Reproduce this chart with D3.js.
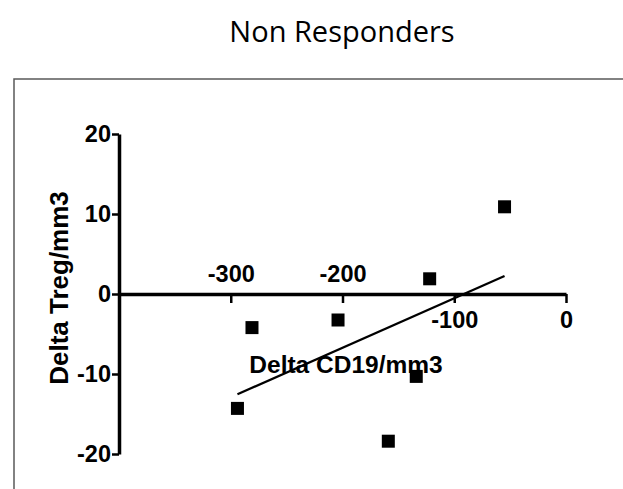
<!DOCTYPE html>
<html>
<head>
<meta charset="utf-8">
<script src="https://cdn.jsdelivr.net/npm/d3@7"></script>
<style>
  html, body { margin: 0; padding: 0; background: #fff; }
  svg { display: block; }
</style>
</head>
<body>
<svg id="chart" width="623" height="489"></svg>
<script>
// ---- data ----
const title = "Non Responders";
const xLabel = "Delta CD19/mm3";
const yLabel = "Delta Treg/mm3";
const deltaCD19 = [-294, -281, -204, -159, -134, -122, -55];
const deltaTreg = [-14.3, -4.2, -3.25, -18.4, -10.3, 1.9, 10.9];
const xTicks = [-300, -200, -100, 0];
const xTicksAbove = [-300, -200];
const yTicks = [-20, -10, 0, 10, 20];
const xDomain = [-400, 0];
const yDomain = [-20, 20];

// ---- layout ----
const svg = d3.select("#chart");
const x = d3.scaleLinear().domain(xDomain).range([119, 566]);
const y = d3.scaleLinear().domain(yDomain).range([454, 134]);
const boldFont = "'Liberation Sans', Arial, sans-serif";
const fmt = d => String(d);

// outer frame (cut off at right/bottom)
svg.append("rect")
  .attr("x", 14).attr("y", 79)
  .attr("width", 700).attr("height", 500)
  .attr("fill", "none").attr("stroke", "#5a5a5a").attr("stroke-width", 1.5);

// title
svg.append("text")
  .attr("x", 342).attr("y", 42)
  .attr("text-anchor", "middle")
  .attr("font-family", "'Open Sans', 'Noto Sans', sans-serif")
  .attr("font-size", 29)
  .attr("fill", "#000")
  .text(title);

// y axis
const yAxisG = svg.append("g")
  .attr("transform", `translate(${x(xDomain[0])},0)`)
  .call(d3.axisLeft(y).tickValues(yTicks).tickSize(7).tickSizeOuter(0).tickPadding(1).tickFormat(fmt));
yAxisG.select(".domain").attr("stroke", "#000").attr("stroke-width", 3.5);
yAxisG.selectAll(".tick line").attr("stroke", "#000").attr("stroke-width", 2.5);
yAxisG.selectAll(".tick text")
  .attr("font-family", boldFont).attr("font-weight", "bold").attr("font-size", 23.5)
  .attr("fill", "#000");

// x axis at y=0
const xAxisG = svg.append("g")
  .attr("transform", `translate(0,${y(0)})`)
  .call(d3.axisBottom(x).tickValues(xTicks).tickSize(9).tickSizeOuter(0).tickFormat(fmt));
xAxisG.select(".domain").attr("stroke", "#000").attr("stroke-width", 3.5);
xAxisG.selectAll(".tick line").attr("stroke", "#000").attr("stroke-width", 2.5);
xAxisG.selectAll(".tick text")
  .attr("font-family", boldFont).attr("font-weight", "bold").attr("font-size", 23.5)
  .attr("fill", "#000")
  .attr("dy", null)
  .attr("y", d => xTicksAbove.includes(d) ? -12 : 34);

// regression line (least squares fit of the points)
const mx = d3.mean(deltaCD19), my = d3.mean(deltaTreg);
let sxy = 0, sxx = 0;
deltaCD19.forEach((v, i) => { sxy += (v - mx) * (deltaTreg[i] - my); sxx += (v - mx) * (v - mx); });
const slope = sxy / sxx, intercept = my - slope * mx;
const [xmin, xmax] = d3.extent(deltaCD19);
svg.append("line")
  .attr("x1", x(xmin)).attr("y1", y(slope * xmin + intercept))
  .attr("x2", x(xmax)).attr("y2", y(slope * xmax + intercept))
  .attr("stroke", "#000").attr("stroke-width", 2.2);

// points
const sq = 13;
svg.append("g").selectAll("rect")
  .data(deltaCD19.map((v, i) => [v, deltaTreg[i]]))
  .join("rect")
  .attr("x", d => x(d[0]) - sq / 2)
  .attr("y", d => y(d[1]) - sq / 2)
  .attr("width", sq).attr("height", sq)
  .attr("fill", "#000");

// axis titles
svg.append("text")
  .attr("x", 346).attr("y", 373)
  .attr("text-anchor", "middle")
  .attr("font-family", boldFont).attr("font-weight", "bold").attr("font-size", 24.5)
  .attr("fill", "#000")
  .text(xLabel);

svg.append("text")
  .attr("transform", "translate(68,288) rotate(-90)")
  .attr("text-anchor", "middle")
  .attr("font-family", boldFont).attr("font-weight", "bold").attr("font-size", 26)
  .attr("fill", "#000")
  .text(yLabel);
</script>
</body>
</html>
